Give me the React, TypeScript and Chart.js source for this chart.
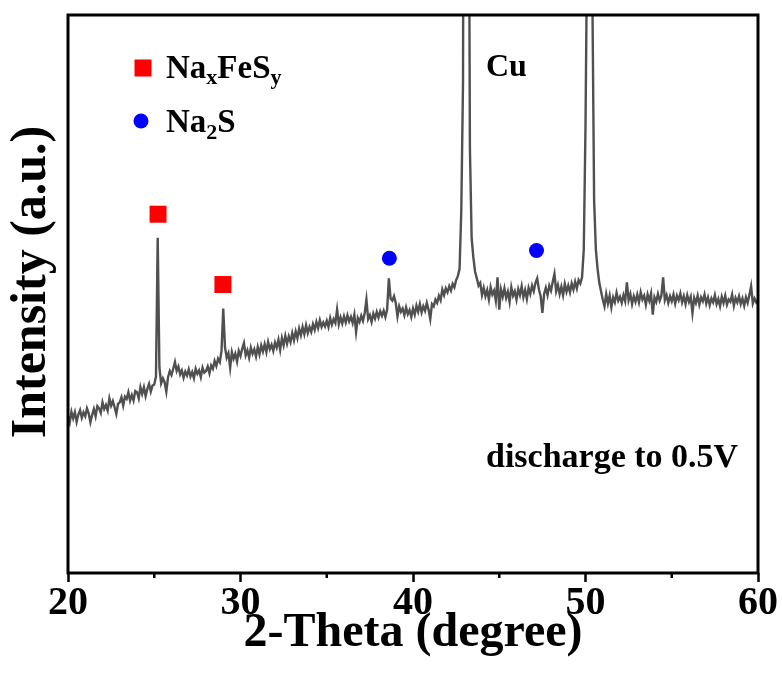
import React, { useEffect, useRef } from 'react';
import { Chart, registerables } from 'chart.js';

Chart.register(...registerables);

// ---- data ----
const thetaStart = 20;
const thetaStep = 0.1; // scan step of the diffractogram, degrees
const intensity: number[] = [
  281, 270, 289, 277, 288, 271, 284, 292, 278, 288, // 20
  281, 295, 286, 270, 283, 294, 281, 299, 295, 287, // 21
  306, 294, 301, 291, 313, 300, 308, 297, 285, 303, // 22
  306, 315, 300, 316, 312, 324, 309, 319, 309, 326, // 23
  324, 313, 333, 321, 333, 317, 330, 339, 325, 336, // 24
  338, 352, 601, 368, 340, 349, 342, 325, 351, 362, // 25
  355, 366, 378, 362, 370, 356, 363, 350, 361, 354, // 26
  365, 352, 360, 349, 366, 357, 363, 351, 368, 359, // 27
  362, 370, 358, 372, 366, 380, 371, 384, 378, 398, // 28
  474, 405, 386, 394, 368, 396, 384, 393, 379, 398, // 29
  389, 402, 412, 390, 399, 386, 404, 393, 401, 388, // 30
  405, 392, 408, 397, 410, 396, 414, 401, 409, 398, // 31
  413, 404, 418, 400, 421, 408, 425, 411, 424, 414, // 32
  430, 417, 433, 421, 438, 426, 441, 428, 444, 430, // 33
  441, 432, 446, 436, 450, 439, 453, 441, 449, 442, // 34
  452, 441, 457, 445, 455, 448, 472, 446, 458, 447, // 35
  460, 449, 462, 451, 459, 448, 463, 432, 457, 450, // 36
  461, 452, 466, 490, 455, 462, 450, 465, 456, 468, // 37
  458, 469, 461, 470, 459, 472, 528, 492, 488, 496, // 38
  484, 460, 478, 468, 474, 462, 476, 464, 471, 459, // 39
  474, 463, 479, 468, 482, 467, 478, 470, 484, 472, // 40
  455, 482, 478, 490, 484, 497, 489, 508, 498, 510, // 41
  503, 514, 506, 518, 512, 525, 532, 545, 650, 880, // 42
  2500, 4000, 1600, 760, 600, 565, 540, 528, 515, 520, // 43
  498, 511, 496, 507, 490, 512, 499, 506, 488, 530, // 44
  472, 508, 495, 510, 493, 504, 486, 512, 497, 505, // 45
  490, 509, 498, 514, 494, 507, 491, 511, 500, 515, // 46
  505, 520, 528, 508, 496, 466, 500, 511, 498, 515, // 47
  506, 522, 536, 505, 516, 500, 513, 498, 518, 504, // 48
  515, 503, 519, 508, 522, 510, 525, 519, 530, 580, // 49
  800, 1150, 4000, 2200, 1030, 667, 580, 545, 520, 505, // 50
  490, 478, 500, 483, 497, 476, 494, 485, 502, 488, // 51
  495, 484, 498, 487, 521, 489, 500, 482, 496, 486, // 52
  499, 485, 503, 490, 497, 481, 499, 488, 501, 463, // 53
  494, 486, 500, 488, 497, 530, 489, 498, 484, 496, // 54
  487, 499, 483, 497, 489, 501, 485, 496, 482, 498, // 55
  486, 495, 466, 493, 484, 497, 481, 494, 487, 499, // 56
  483, 494, 480, 492, 485, 498, 482, 491, 478, 495, // 57
  484, 497, 481, 490, 486, 499, 479, 493, 485, 496, // 58
  482, 492, 479, 494, 484, 498, 514, 483, 492, 485, // 59
  490, // 60
];

const majorTicks = [20, 30, 40, 50, 60];
const minorTicks = [25, 35, 45, 55];

const nafesTheta = [25.22, 28.98];
const nafesIntensity = [643, 517];
const na2sTheta = [38.63, 47.16];
const na2sIntensity = [564, 578];

const yTitle = 'Intensity (a.u.)';
const xTitle = '2-Theta (degree)';

const FONT = '"Liberation Serif", "Times New Roman", Times, serif';

type Part = [string, boolean];

function drawRich(ctx: CanvasRenderingContext2D, x: number, y: number, parts: Part[], size: number, subSize: number, subDrop: number) {
  let cx = x;
  for (const [t, sub] of parts) {
    ctx.font = `bold ${sub ? subSize : size}px ${FONT}`;
    ctx.fillText(t, cx, sub ? y + subDrop : y);
    cx += ctx.measureText(t).width;
  }
}

const decorPlugin = {
  id: 'decor',
  afterDatasetsDraw(chart: any) {
    const { ctx, chartArea: a, scales } = chart;
    ctx.save();
    // frame
    ctx.strokeStyle = '#000';
    ctx.lineWidth = 3;
    ctx.strokeRect(a.left, a.top, a.right - a.left, a.bottom - a.top);
    // minor ticks
    ctx.lineWidth = 2.5;
    for (const v of minorTicks) {
      const px = scales.x.getPixelForValue(v);
      ctx.beginPath();
      ctx.moveTo(px, a.bottom);
      ctx.lineTo(px, a.bottom + 5);
      ctx.stroke();
    }
    // legend symbols
    ctx.fillStyle = '#ff0000';
    ctx.fillRect(134.5, 59.5, 17, 17);
    ctx.fillStyle = '#0000ff';
    ctx.beginPath();
    ctx.arc(141, 121, 7.5, 0, Math.PI * 2);
    ctx.fill();
    // texts
    ctx.fillStyle = '#000';
    ctx.textBaseline = 'alphabetic';
    ctx.textAlign = 'left';
    drawRich(ctx, 166, 78, [['Na', false], ['x', true], ['FeS', false], ['y', true]], 33, 22, 6);
    drawRich(ctx, 166, 132, [['Na', false], ['2', true], ['S', false]], 33, 22, 7);
    drawRich(ctx, 486, 76, [['Cu', false]], 32, 22, 0);
    drawRich(ctx, 486, 467, [['discharge to 0.5V', false]], 34, 22, 0);
    // y axis title
    ctx.save();
    ctx.translate(32, 282);
    ctx.rotate(-Math.PI / 2);
    ctx.textAlign = 'center';
    ctx.textBaseline = 'middle';
    ctx.font = `bold 50px ${FONT}`;
    ctx.fillText(yTitle, 0, 0);
    ctx.restore();
    ctx.restore();
  },
};

export default function App() {
  const ref = useRef<HTMLCanvasElement | null>(null);

  useEffect(() => {
    if (!ref.current) return;
    const lineData = intensity.map((v, i) => ({ x: thetaStart + i * thetaStep, y: v }));
    const chart = new Chart(ref.current, {
      type: 'line',
      data: {
        datasets: [
          {
            label: 'pattern',
            data: lineData,
            borderColor: '#505050',
            borderWidth: 2.4,
            pointRadius: 0,
            tension: 0,
            fill: false,
            order: 3,
          },
          {
            label: 'NaxFeSy',
            data: nafesTheta.map((x, i) => ({ x, y: nafesIntensity[i] })),
            showLine: false,
            pointStyle: 'rect',
            pointRadius: 12,
            pointBackgroundColor: '#ff0000',
            pointBorderWidth: 0,
            borderColor: '#ff0000',
            order: 1,
          },
          {
            label: 'Na2S',
            data: na2sTheta.map((x, i) => ({ x, y: na2sIntensity[i] })),
            showLine: false,
            pointStyle: 'circle',
            pointRadius: 7.5,
            pointBackgroundColor: '#0000ff',
            pointBorderWidth: 0,
            borderColor: '#0000ff',
            order: 2,
          },
        ],
      },
      options: {
        responsive: false,
        animation: false,
        events: [],
        layout: { padding: { top: 15, right: 24, left: 0, bottom: 0 } },
        plugins: { legend: { display: false }, tooltip: { enabled: false } },
        scales: {
          x: {
            type: 'linear',
            min: 20,
            max: 60,
            afterFit: (s: any) => { s.height = 106; },
            afterBuildTicks: (s: any) => { s.ticks = majorTicks.map((v) => ({ value: v })); },
            ticks: {
              autoSkip: false,
              maxRotation: 0,
              padding: 2,
              color: '#000',
              font: { family: FONT, size: 40, weight: 'bold', lineHeight: 1 },
            },
            grid: {
              display: true,
              drawOnChartArea: false,
              drawTicks: true,
              tickLength: 9,
              tickWidth: 2.5,
              tickColor: '#000',
            },
            border: { display: false },
            title: {
              display: true,
              text: xTitle,
              color: '#000',
              font: { family: FONT, size: 48, weight: 'bold', lineHeight: 1 },
              padding: { top: 0, bottom: 21 },
            },
          },
          y: {
            type: 'linear',
            min: 0,
            max: 1000,
            afterFit: (s: any) => { s.width = 68; },
            ticks: { display: false },
            grid: { display: false },
            border: { display: false },
            title: { display: false },
          },
        },
      },
      plugins: [decorPlugin],
    });
    return () => chart.destroy();
  }, []);

  return (
    <div style={{ position: 'absolute', left: 0, top: 0, width: 782, height: 679, background: '#fff' }}>
      <canvas ref={ref} width={782} height={679} />
    </div>
  );
}
